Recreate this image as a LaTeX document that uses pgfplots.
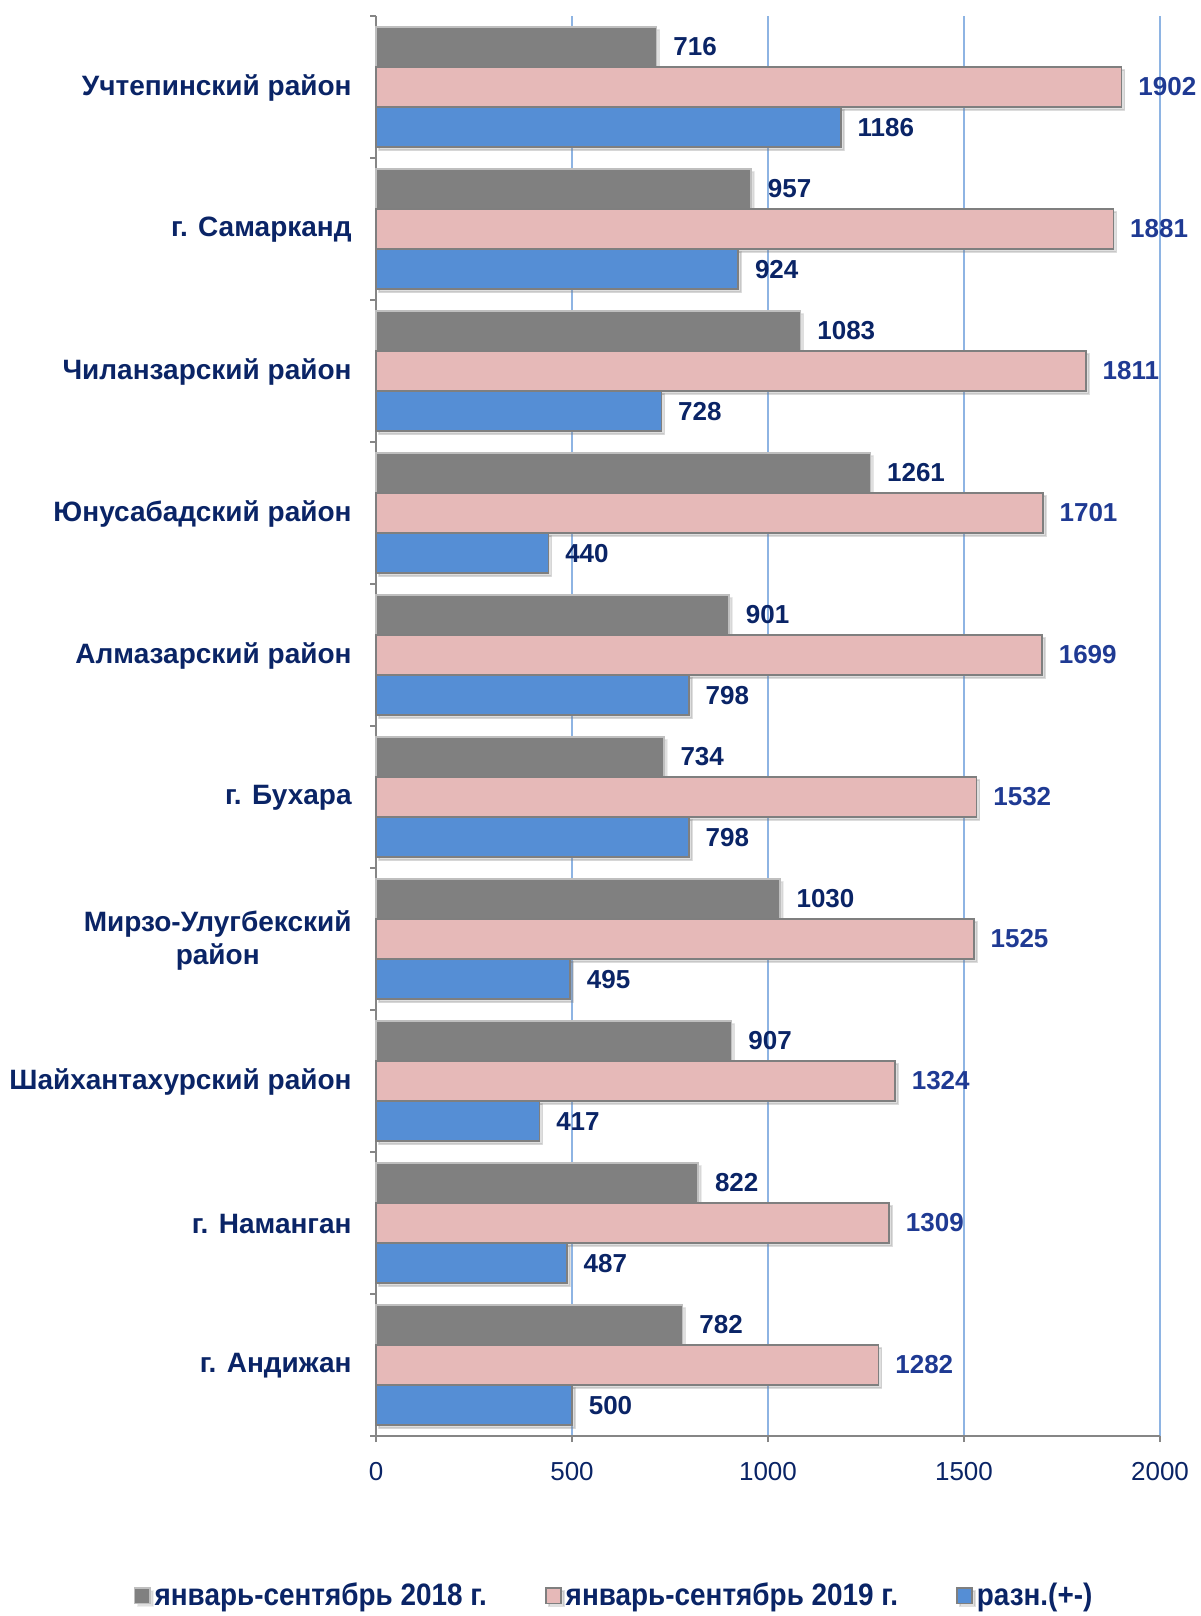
\documentclass[border=0pt]{standalone}
\usepackage{fontspec}
\setmainfont{Liberation Sans}
\usepackage{pgfplots}
\pgfplotsset{compat=1.18}
\usetikzlibrary{shadows}
\definecolor{navy}{RGB}{10,36,102}
\definecolor{pinklab}{RGB}{31,58,147}
\definecolor{cgray}{RGB}{128,128,128}
\definecolor{cgrayedge}{RGB}{191,191,191}
\definecolor{cpink}{RGB}{230,185,184}
\definecolor{cblue}{RGB}{85,142,213}
\definecolor{edge}{RGB}{127,127,127}
\definecolor{gridblue}{RGB}{142,180,227}
\definecolor{axgray}{RGB}{134,134,134}
\newcommand{\legtxt}[1]{\scalebox{0.9}[1]{#1}}
\begin{document}
\begin{tikzpicture}
\useasboundingbox (0,0) rectangle (600pt,808pt);
\begin{axis}[
  at={(188pt,90pt)}, anchor=south west,
  scale only axis, width=392pt, height=710pt,
  xbar, bar width=0.283,
  xmin=0, xmax=2000, ymin=-0.5, ymax=9.5, y dir=reverse,
  clip=false,
  axis x line*=bottom, axis y line*=left,
  axis line style={axgray, line width=0.8pt},
  xtick={0,500,1000,1500,2000},
  scaled x ticks=false,
  /pgf/number format/1000 sep={},
  /pgf/number format/assume math mode=true,
  ytick={0,1,2,3,4,5,6,7,8,9},
  yticklabels={Учтепинский район, г. Самарканд, Чиланзарский район, Юнусабадский район, Алмазарский район, г. Бухара, {Мирзо-Улугбекский\\район}, Шайхантахурский район, г. Наманган, г. Андижан},
  minor ytick={-0.5,0.5,...,9.5},
  tick align=outside,
  major tick length=3pt, minor tick length=3pt,
  major y tick style={draw=none},
  minor y tick style={axgray, line width=0.8pt},
  major x tick style={axgray, line width=0.8pt},
  xmajorgrids,
  major x grid style={gridblue, line width=0.8pt},
  yticklabel style={inner sep=0pt, xshift=-9pt, yshift=-0.5pt, align=center, text=navy, font=\bfseries\fontsize{14}{16.5}\selectfont},
  xticklabel style={inner sep=0pt, yshift=-10pt, text=navy, font=\fontsize{13}{13}\selectfont},
  nodes near coords,
  nodes near coords style={font=\bfseries\fontsize{13}{13}\selectfont, text=navy, anchor=west, inner sep=0pt, xshift=8pt},
  legend style={at={(0.305,-0.1125)}, anchor=center, legend columns=3, draw=none, fill=none,
    font=\bfseries\fontsize{15.5}{15.5}\selectfont, text=navy, inner sep=0pt,
    /tikz/every even column/.append style={column sep=27pt}},
  legend cell align=left,
  legend image code/.code={\draw[#1] (-2.5pt,-3.8pt) rectangle (5.1pt,3.8pt);},
]
\addplot[fill=cgray, draw=cgrayedge, line width=0.8pt, bar shift=-0.283,
  drop shadow={opacity=0.25, shadow xshift=1.5pt, shadow yshift=-1.5pt}]
  coordinates {(716,0) (957,1) (1083,2) (1261,3) (901,4) (734,5) (1030,6) (907,7) (822,8) (782,9)};
\addplot[fill=cpink, draw=edge, line width=0.8pt, bar shift=0,
  drop shadow={opacity=0.25, shadow xshift=1.5pt, shadow yshift=-1.5pt},
  every node near coord/.append style={text=pinklab}]
  coordinates {(1902,0) (1881,1) (1811,2) (1701,3) (1699,4) (1532,5) (1525,6) (1324,7) (1309,8) (1282,9)};
\addplot[fill=cblue, draw=edge, line width=0.8pt, bar shift=0.283,
  drop shadow={opacity=0.25, shadow xshift=1.5pt, shadow yshift=-1.5pt}]
  coordinates {(1186,0) (924,1) (728,2) (440,3) (798,4) (798,5) (495,6) (417,7) (487,8) (500,9)};
\legend{\legtxt{январь-сентябрь 2018 г.}, \legtxt{январь-сентябрь 2019 г.}, \legtxt{разн.(+-)}}
\end{axis}
\end{tikzpicture}
\end{document}
